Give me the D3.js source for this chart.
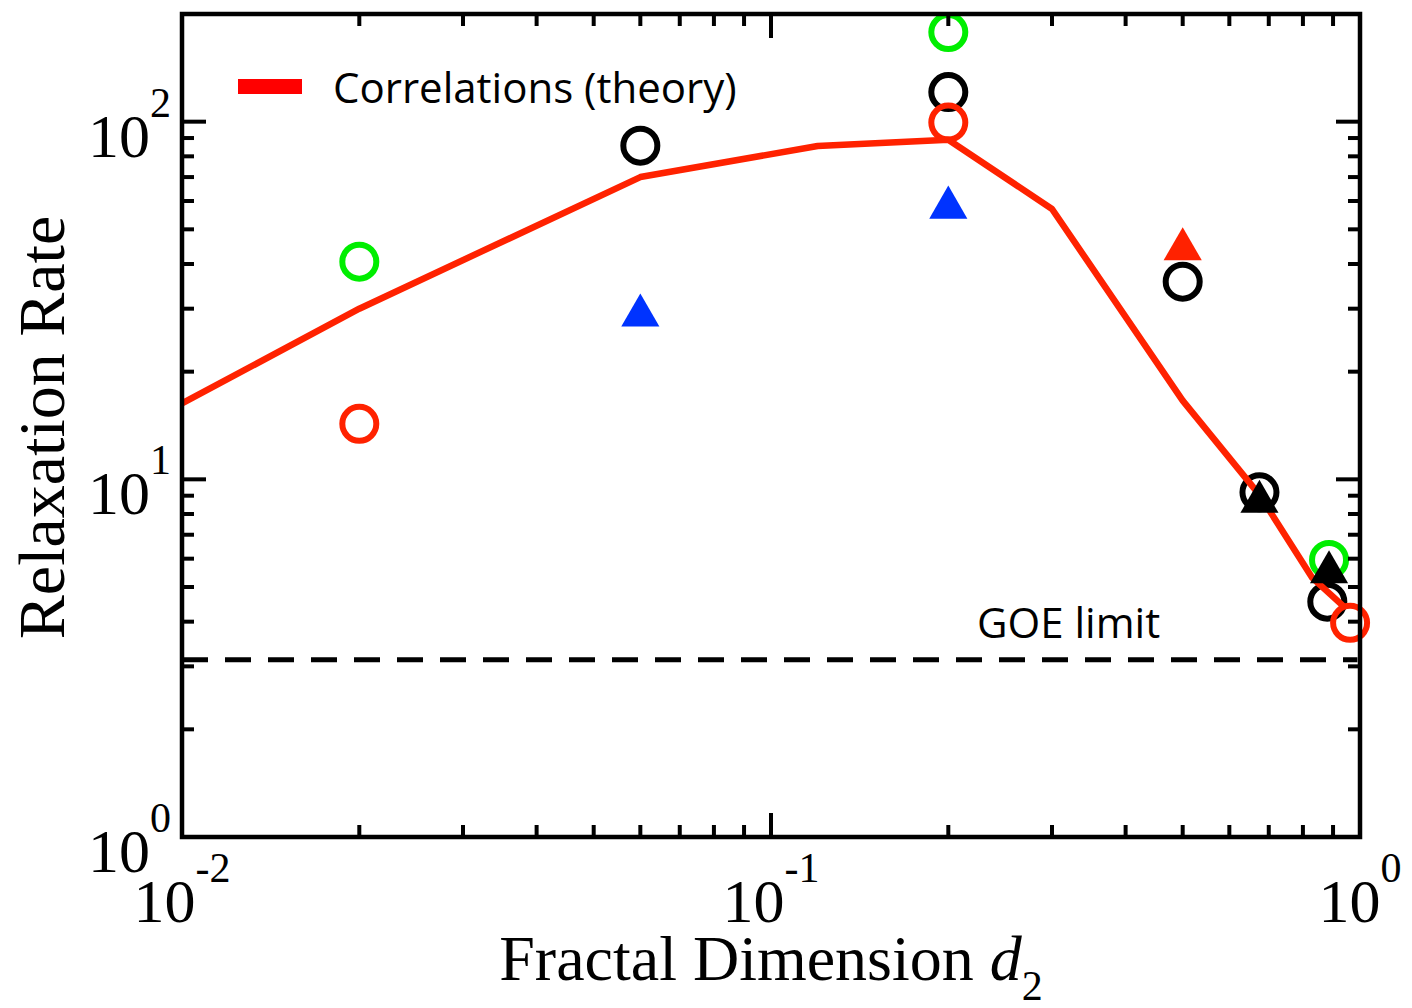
<!DOCTYPE html>
<html>
<head>
<meta charset="utf-8">
<script src="https://cdn.jsdelivr.net/npm/d3@7"></script>
<style>
  html, body { margin: 0; padding: 0; background: #fff; }
  svg { display: block; }
</style>
</head>
<body>
<div id="chart"></div>
<script>
// Theory curve (correlations)
const theoryX = [0.01, 0.02, 0.06, 0.12, 0.2, 0.3, 0.5, 0.675, 0.83, 0.94];
const theoryY = [16.3, 30, 70, 85.5, 89, 57, 16.6, 9.05, 5.3, 4.4];

// Measured points, by marker
const greenCircleX = [0.02, 0.2, 0.886];
const greenCircleY = [40.6, 178, 5.95];
const blackCircleX = [0.06, 0.2, 0.5, 0.675, 0.88];
const blackCircleY = [85.7, 121, 35.7, 9.2, 4.55];
const redCircleX = [0.02, 0.2, 0.962];
const redCircleY = [14.3, 99.4, 3.97];
const blueTriangleX = [0.06, 0.2];
const blueTriangleY = [28.7, 57.5];
const redTriangleX = [0.5];
const redTriangleY = [44];
const blackTriangleX = [0.675, 0.886];
const blackTriangleY = [8.65, 5.5];

const goeLimit = 3.13;

// Tick labels (powers of ten)
const xTickExps = [-2, -1, 0];
const yTickExps = [0, 1, 2];

const W = 1412, H = 1008;
const margin = { top: 14, right: 52, bottom: 171, left: 182 };

const svg = d3.select("#chart")
  .append("svg")
  .attr("width", W)
  .attr("height", H);

const x = d3.scaleLog()
  .domain([0.01, 1])
  .range([margin.left, W - margin.right]);

const y = d3.scaleLog()
  .domain([1, 200])
  .range([H - margin.bottom, margin.top]);

const x0 = x.range()[0], x1 = x.range()[1];
const y0 = y.range()[0], y1 = y.range()[1];

const zip = (a, b) => a.map((v, i) => [v, b[i]]);

// tick values on log axes
const xMajor = [0.01, 0.1, 1];
const xMinor = [];
[0.01, 0.1].forEach(d => { for (let k = 2; k <= 9; k++) xMinor.push(d * k); });
const yMajor = [1, 10, 100];
const yMinor = [];
[1, 10].forEach(d => { for (let k = 2; k <= 9; k++) yMinor.push(d * k); });
const majLen = 24, minLen = 12;

// circles first
const circleLayer = svg.append("g");
function circles(xs, ys, color) {
  circleLayer.selectAll(null)
    .data(zip(xs, ys))
    .enter()
    .append("circle")
    .attr("cx", d => x(d[0]))
    .attr("cy", d => y(d[1]))
    .attr("r", 17)
    .attr("fill", "none")
    .attr("stroke", color)
    .attr("stroke-width", 6);
}
circles(greenCircleX, greenCircleY, "#00ee00");
circles(blackCircleX, blackCircleY, "#000");

// GOE limit
svg.append("line")
  .attr("x1", x(0.01))
  .attr("x2", x(0.99))
  .attr("y1", y(goeLimit))
  .attr("y2", y(goeLimit))
  .attr("stroke", "#000")
  .attr("stroke-width", 5)
  .attr("stroke-dasharray", "26,17");

svg.append("text")
  .attr("x", 977)
  .attr("y", 638)
  .attr("font-family", "Open Sans, sans-serif")
  .attr("font-size", 42)
  .text("GOE limit");

// theory line
svg.append("path")
  .datum(zip(theoryX, theoryY))
  .attr("fill", "none")
  .attr("stroke", "#ff2200")
  .attr("stroke-width", 6.5)
  .attr("stroke-linejoin", "round")
  .attr("d", d3.line().x(d => x(d[0])).y(d => y(d[1])));

circles(redCircleX, redCircleY, "#ff2200");

// triangles on top
const tri = d3.symbol().type(d3.symbolTriangle).size(630);
function triangles(xs, ys, color) {
  svg.append("g").selectAll("path")
    .data(zip(xs, ys))
    .enter()
    .append("path")
    .attr("d", tri)
    .attr("transform", d => `translate(${x(d[0])},${y(d[1])})`)
    .attr("fill", color);
}
triangles(blueTriangleX, blueTriangleY, "#0033ff");
triangles(redTriangleX, redTriangleY, "#ff2200");
triangles(blackTriangleX, blackTriangleY, "#000");

// frame + inward ticks on all sides
const axes = svg.append("g").attr("stroke", "#000").attr("stroke-width", 4);
xMajor.concat(xMinor).forEach(v => {
  const len = xMajor.includes(v) ? majLen : minLen;
  axes.append("line").attr("x1", x(v)).attr("x2", x(v)).attr("y1", y0).attr("y2", y0 - len);
  axes.append("line").attr("x1", x(v)).attr("x2", x(v)).attr("y1", y1).attr("y2", y1 + len);
});
yMajor.concat(yMinor).forEach(v => {
  const len = yMajor.includes(v) ? majLen : minLen;
  axes.append("line").attr("x1", x0).attr("x2", x0 + len).attr("y1", y(v)).attr("y2", y(v));
  axes.append("line").attr("x1", x1).attr("x2", x1 - len).attr("y1", y(v)).attr("y2", y(v));
});
svg.append("rect")
  .attr("x", x0)
  .attr("y", y1)
  .attr("width", x1 - x0)
  .attr("height", y0 - y1)
  .attr("fill", "none")
  .attr("stroke", "#000")
  .attr("stroke-width", 4.5);

// tick labels
const serif = "Liberation Serif, Times New Roman, serif";
xTickExps.forEach(e => {
  const t = svg.append("text")
    .attr("x", x(Math.pow(10, e)))
    .attr("y", 922)
    .attr("text-anchor", "middle")
    .attr("font-family", serif)
    .attr("font-size", 62);
  t.append("tspan").text("10");
  t.append("tspan").attr("dy", -40).attr("font-size", 42).text(e);
});
yTickExps.forEach(e => {
  const t = svg.append("text")
    .attr("x", 171)
    .attr("y", y(Math.pow(10, e)) + 35)
    .attr("text-anchor", "end")
    .attr("font-family", serif)
    .attr("font-size", 62);
  t.append("tspan").text("10");
  t.append("tspan").attr("dy", -40).attr("font-size", 42).text(e);
});

// axis titles
const xt = svg.append("text")
  .attr("x", (x0 + x1) / 2)
  .attr("y", 980)
  .attr("text-anchor", "middle")
  .attr("font-family", serif)
  .attr("font-size", 64);
xt.append("tspan").text("Fractal Dimension ");
xt.append("tspan").attr("font-style", "italic").text("d");
xt.append("tspan").attr("dy", 20).attr("font-size", 42).text("2");

svg.append("text")
  .attr("transform", `translate(64,${(y0 + y1) / 2 + 2}) rotate(-90)`)
  .attr("text-anchor", "middle")
  .attr("font-family", serif)
  .attr("font-size", 66)
  .text("Relaxation Rate");

// legend
svg.append("line")
  .attr("x1", 238).attr("x2", 302)
  .attr("y1", 86.5).attr("y2", 86.5)
  .attr("stroke", "#ff0000")
  .attr("stroke-width", 15);
svg.append("text")
  .attr("x", 333)
  .attr("y", 103)
  .attr("font-family", "Open Sans, sans-serif")
  .attr("font-size", 42)
  .text("Correlations (theory)");
</script>
</body>
</html>
